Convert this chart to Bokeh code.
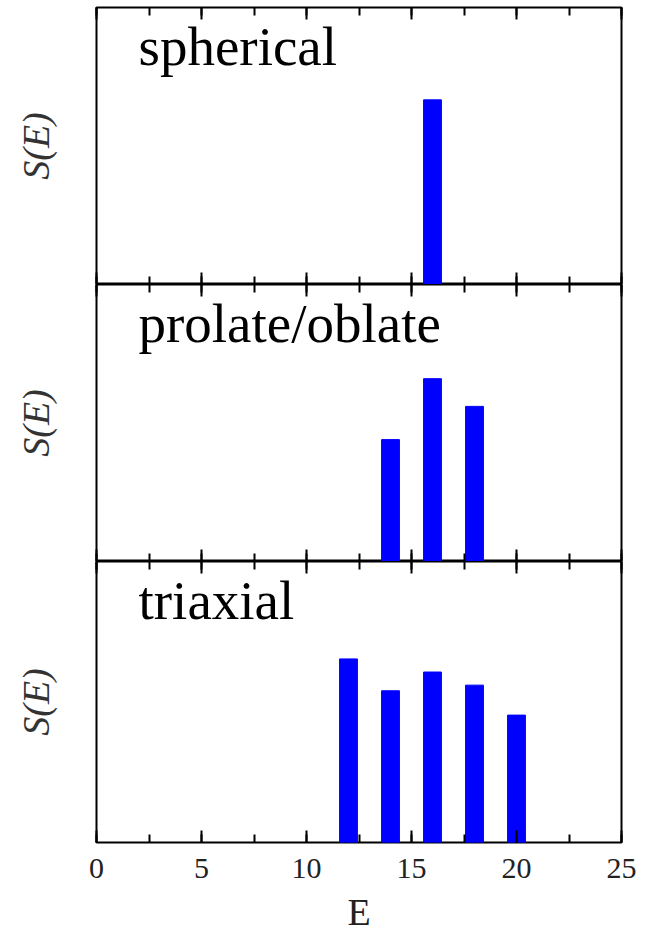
from bokeh.plotting import figure
from bokeh.models import Label, SingleIntervalTicker, FixedTicker, LinearAxis, Range1d
from bokeh.layouts import column
from bokeh.embed import file_html
from bokeh.resources import INLINE

# Data
panel_titles = ["spherical", "prolate/oblate", "triaxial"]
E_spherical = [16]
S_spherical = [1.00]
E_prolate = [14, 16, 18]
S_prolate = [0.66, 0.99, 0.84]
E_triaxial = [12, 14, 16, 18, 20]
S_triaxial = [0.98, 0.81, 0.91, 0.84, 0.68]
x_ticks_interval = 5

FONT = "Liberation Serif"
panels = [(E_spherical, S_spherical), (E_prolate, S_prolate), (E_triaxial, S_triaxial)]
frame_heights = [277, 277, 281]

figs = []
for i, ((E, S), title) in enumerate(zip(panels, panel_titles)):
    last = i == 2
    p = figure(frame_width=525, frame_height=frame_heights[i],
               x_range=Range1d(0, 25), y_range=Range1d(0, 1.5),
               output_backend="svg", toolbar_location=None,
               x_axis_location=None, y_axis_location=None,
               min_border_left=96, min_border_right=31,
               min_border_top=7 if i == 0 else 0, min_border_bottom=0)
    p.grid.visible = False
    p.outline_line_color = "black"
    p.outline_line_width = 2
    p.background_fill_color = "white"
    p.border_fill_color = "white"

    for loc in ("above", "below"):
        ax = LinearAxis(ticker=SingleIntervalTicker(interval=x_ticks_interval, num_minor_ticks=2))
        ax.axis_line_color = None
        ax.major_tick_in = 12
        ax.major_tick_out = 0
        ax.minor_tick_in = 8
        ax.minor_tick_out = 0
        ax.major_tick_line_width = 2
        ax.minor_tick_line_width = 2
        ax.major_tick_line_color = "black"
        ax.minor_tick_line_color = "black"
        if last and loc == "below":
            ax.major_label_text_font = FONT
            ax.major_label_text_font_size = "30px"
            ax.major_label_text_color = "#222222"
            ax.major_label_standoff = 16
            ax.axis_label = "E"
            ax.axis_label_text_font = FONT
            ax.axis_label_text_font_style = "normal"
            ax.axis_label_text_font_size = "38px"
            ax.axis_label_text_color = "#222222"
            ax.axis_label_standoff = 10
        else:
            ax.major_label_text_font_size = "1px"
            ax.major_label_text_color = None
            ax.major_label_standoff = 0
        p.add_layout(ax, loc)

    yax = LinearAxis(ticker=FixedTicker(ticks=[]))
    yax.axis_line_color = None
    yax.major_tick_line_color = None
    yax.minor_tick_line_color = None
    yax.major_label_standoff = 0
    yax.axis_label = "S(E)"
    yax.axis_label_text_font = FONT
    yax.axis_label_text_font_style = "italic"
    yax.axis_label_text_font_size = "38px"
    yax.axis_label_text_color = "#333333"
    yax.axis_label_standoff = 40
    p.add_layout(yax, "left")

    p.vbar(x=E, top=S, width=0.85, bottom=0, color="#0000ff")

    p.add_layout(Label(x=2.0, y=1.29, text=title, text_font=FONT,
                       text_font_size="55px", text_color="black",
                       text_baseline="alphabetic", text_align="left"))
    figs.append(p)

layout = column(*figs, spacing=0)
open("out.html", "w").write(file_html(layout, INLINE))
